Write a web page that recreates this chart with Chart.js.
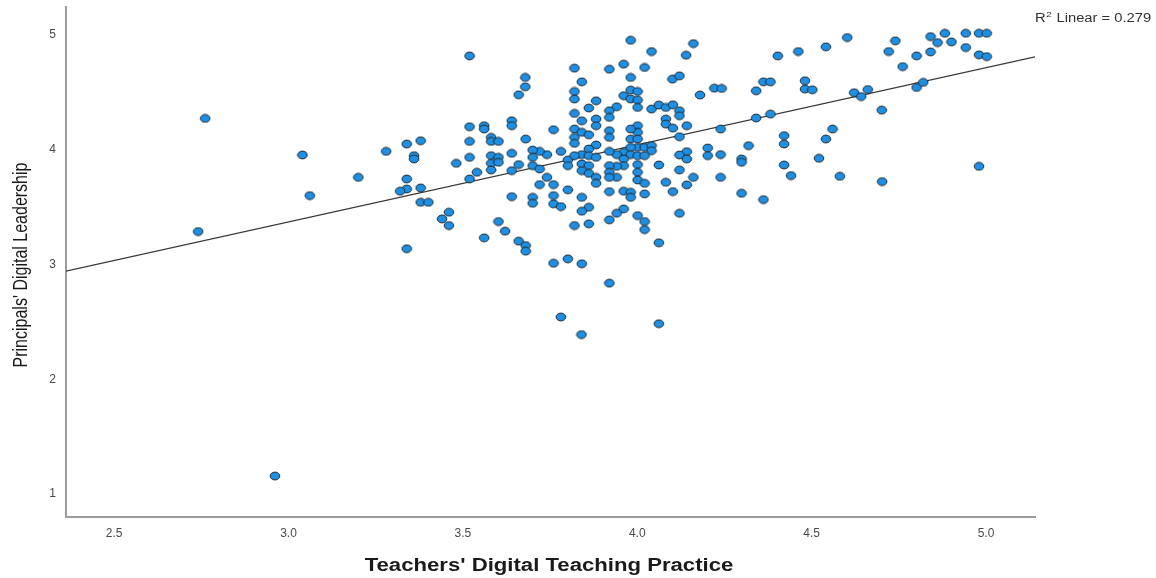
<!DOCTYPE html>
<html>
<head>
<meta charset="utf-8">
<script src="https://cdn.jsdelivr.net/npm/chart.js@4"></script>
<style>
  html, body { margin: 0; padding: 0; background: #fff; }
  #wrap { width: 1156px; height: 578px; }
</style>
</head>
<body>
<div id="wrap"><canvas id="scatter"></canvas></div>
<script>
const teachX = [
  2.761, 3.040, 3.280, 3.200, 3.061, 2.741, 2.961,
  3.920, 3.781, 3.840, 4.062,
  4.882, 4.942, 4.980, 5.002, 4.841, 4.861, 4.901, 4.602, 4.740, 4.541, 4.462, 4.403,
  4.721, 4.801, 4.841, 4.942, 4.980, 5.002, 4.761, 4.362, 4.382, 4.481, 4.481, 4.502,
  4.622, 4.642, 4.661, 4.801, 4.820, 4.341, 4.382, 4.341, 4.701, 4.560, 4.541, 4.421,
  4.421, 4.521, 4.421, 4.441, 4.581, 4.702, 4.980, 4.362,
  3.981, 4.161, 4.041, 4.140, 3.519, 3.820, 3.920, 3.961, 4.021, 3.981, 4.101, 4.121,
  3.679, 3.679, 3.660, 3.841, 3.820, 3.820, 3.820, 3.882, 3.861, 3.981, 4.001, 3.961,
  3.981, 4.001, 4.001, 3.941, 3.920, 3.920, 3.841, 3.882, 3.882, 4.180, 4.221, 4.242,
  4.041, 4.062, 4.082, 4.102, 4.121, 4.121, 4.082, 4.082, 4.102, 4.142, 4.121, 4.239,
  4.319, 4.202, 4.202, 4.239, 4.142, 4.121, 4.142, 4.299, 4.299, 4.121, 4.161, 4.239,
  4.142, 4.082, 4.102, 4.062, 4.299, 4.121, 4.062,
  4.001, 4.001, 3.981, 3.981, 4.001, 4.001, 4.021, 4.041, 4.041, 3.981, 3.961, 3.981,
  4.001, 4.021, 3.941, 3.920, 3.961, 3.961, 3.941, 3.920, 4.001, 4.001, 3.920, 3.941,
  3.920, 4.001, 4.021, 4.021, 3.961, 3.981, 3.981, 3.920, 3.961, 3.941, 3.920, 4.001,
  4.021, 4.021, 3.920, 3.920,
  3.882, 3.861, 3.841, 3.861, 3.882, 3.841, 3.861, 3.841, 3.861, 3.882, 3.882, 3.801,
  3.801, 3.781, 3.820, 3.820, 3.820, 3.841, 3.861, 3.820, 3.760, 3.741, 3.720, 3.700,
  3.700, 3.700, 3.720, 3.741, 3.720, 3.760, 3.801, 3.841, 3.861, 3.841, 3.760, 3.760,
  3.781, 3.700, 3.700, 3.640, 3.820, 3.861, 3.760, 3.801, 3.841,
  3.680, 3.640, 3.640, 3.640, 3.640, 3.660, 3.561, 3.561, 3.519, 3.581, 3.581, 3.602,
  3.519, 3.581, 3.602, 3.581, 3.602, 3.519, 3.581, 3.540, 3.519, 3.481, 3.379, 3.339,
  3.360, 3.360, 3.339, 3.339, 3.320, 3.379, 3.379, 3.401, 3.460, 3.440, 3.460, 3.339,
  3.561, 3.602, 3.621, 3.660, 3.680, 3.680
];
const leadY = [
  4.272, 3.954, 3.985, 3.759, 3.600, 3.287, 1.157,
  2.837, 2.542, 2.389, 2.484,
  5.014, 5.014, 5.014, 5.014, 4.985, 4.933, 4.939, 4.977, 4.948, 4.896, 4.855, 4.817,
  4.855, 4.817, 4.852, 4.890, 4.826, 4.811, 4.724, 4.591, 4.591, 4.600, 4.528, 4.522,
  4.496, 4.463, 4.524, 4.542, 4.586, 4.513, 4.310, 4.276, 4.345, 4.180, 4.093, 4.122,
  4.049, 3.925, 3.867, 3.774, 3.768, 3.722, 3.855, 3.565,
  4.953, 4.924, 4.855, 4.823, 4.817, 4.710, 4.701, 4.745, 4.716, 4.629, 4.615, 4.643,
  4.629, 4.548, 4.478, 4.591, 4.507, 4.441, 4.316, 4.426, 4.363, 4.519, 4.507, 4.470,
  4.441, 4.432, 4.368, 4.374, 4.339, 4.281, 4.252, 4.267, 4.209, 4.476, 4.536, 4.533,
  4.354, 4.389, 4.368, 4.391, 4.339, 4.296, 4.267, 4.223, 4.188, 4.209, 4.113, 4.180,
  4.035, 4.015, 3.948, 3.957, 3.983, 3.954, 3.919, 3.919, 3.890, 3.823, 3.759, 3.759,
  3.693, 3.716, 3.635, 3.867, 3.620, 3.446, 3.189,
  4.209, 4.151, 4.180, 4.093, 4.093, 4.020, 4.020, 4.035, 3.991, 4.020, 3.977, 3.957,
  3.948, 3.948, 3.957, 3.985, 3.919, 3.861, 3.855, 3.861, 3.870, 3.803, 3.803, 3.759,
  3.759, 3.736, 3.707, 3.615, 3.638, 3.629, 3.585, 3.635, 3.484, 3.446, 3.389, 3.426,
  3.374, 3.304, 4.165, 4.107,
  4.041, 4.006, 3.957, 3.948, 3.933, 3.876, 3.861, 3.817, 3.794, 3.759, 3.707, 3.910,
  3.861, 3.985, 4.180, 4.107, 4.055, 4.151, 4.130, 3.948, 4.174, 3.957, 3.985, 3.997,
  3.933, 3.861, 3.832, 3.759, 3.696, 3.696, 3.650, 3.585, 3.498, 3.464, 3.600, 3.528,
  3.504, 3.585, 3.533, 3.591, 3.339, 3.354, 3.011, 3.049, 3.006,
  4.093, 4.252, 4.209, 3.968, 3.817, 3.870, 4.209, 4.180, 4.200, 4.107, 4.072, 4.072,
  4.072, 3.948, 3.933, 3.881, 3.890, 3.933, 3.823, 3.803, 3.745, 3.881, 4.078, 4.049,
  3.948, 3.919, 3.745, 3.658, 3.638, 3.667, 3.542, 3.542, 3.455, 3.397, 3.339, 3.137,
  3.232, 3.374, 3.290, 3.203, 3.165, 3.116
];

// fitted line ends as drawn
const fitX = [2.362, 5.1405];
const fitY = [2.942, 4.809];

const xTicks = [2.5, 3.0, 3.5, 4.0, 4.5, 5.0];
const yTicks = [1, 2, 3, 4, 5];
const xTitle = "Teachers' Digital Teaching Practice";
const yTitle = "Principals' Digital Leadership";
const r2Text = '0.279';

const points = teachX.map((x, i) => ({ x: x, y: leadY[i] }));
const fitLine = fitX.map((x, i) => ({ x: x, y: fitY[i] }));

// the source picture is stretched sideways, so markers are little ellipses
const dot = document.createElement('canvas');
dot.width = 12;
dot.height = 10;
(function () {
  const d = dot.getContext('2d');
  d.beginPath();
  d.ellipse(6, 5, 4.8, 3.9, 0, 0, Math.PI * 2);
  d.fillStyle = '#1e8fe2';
  d.fill();
  d.lineWidth = 1;
  d.strokeStyle = '#1b2833';
  d.stroke();
})();

const FONT = '"Liberation Sans", Arial, sans-serif';
const STRETCH = 1.23;

const labels = {
  id: 'labels',
  afterDraw(chart) {
    const c = chart.ctx;
    c.save();
    c.fillStyle = '#1a1a1a';
    c.textAlign = 'center';
    c.textBaseline = 'middle';

    // x title
    c.save();
    c.translate(549, 566);
    c.scale(STRETCH, 1);
    c.font = 'bold 18px ' + FONT;
    c.fillText(xTitle, 0, 0);
    c.restore();

    // y title
    c.save();
    c.translate(22, 265);
    c.scale(STRETCH, 1);
    c.rotate(-Math.PI / 2);
    c.font = '16px ' + FONT;
    c.fillText(yTitle, 0, 0);
    c.restore();

    // R squared note
    c.save();
    c.fillStyle = '#333';
    c.textAlign = 'left';
    c.textBaseline = 'alphabetic';
    c.translate(1035, 22);
    c.scale(STRETCH, 1);
    let x = 0;
    c.font = '12px ' + FONT;
    c.fillText('R', x, 0);
    x += c.measureText('R').width;
    c.font = '8px ' + FONT;
    c.fillText('2', x + 0.5, -5);
    x += c.measureText('2').width + 1;
    c.font = '12px ' + FONT;
    c.fillText(' Linear = ' + r2Text, x, 0);
    c.restore();

    c.restore();
  }
};

const ctx = document.getElementById('scatter').getContext('2d');
new Chart(ctx, {
  type: 'scatter',
  data: {
    datasets: [
      {
        label: 'fit',
        type: 'line',
        data: fitLine,
        borderColor: '#3a3a3a',
        borderWidth: 1.2,
        pointRadius: 0,
        fill: false,
        order: 2
      },
      {
        label: 'schools',
        data: points,
        pointStyle: dot,
        pointRadius: 5,
        order: 1
      }
    ]
  },
  options: {
    responsive: true,
    maintainAspectRatio: false,
    animation: false,
    layout: { padding: { left: 0, right: 121, top: 7, bottom: 0 } },
    plugins: {
      legend: { display: false },
      tooltip: { enabled: false }
    },
    scales: {
      x: {
        type: 'linear',
        min: 2.362,
        max: 5.1405,
        afterBuildTicks: function (scale) {
          scale.ticks = xTicks.map(v => ({ value: v }));
        },
        afterFit: function (scale) {
          scale.height = 61;
          scale.paddingLeft = 0;
          scale.paddingRight = 0;
        },
        grid: { display: false, drawTicks: false },
        border: { display: true, color: '#9c9c9c', width: 2 },
        ticks: {
          padding: 9,
          color: '#4a4a4a',
          font: { family: FONT, size: 12 },
          callback: function (value) { return value.toFixed(1); }
        }
      },
      y: {
        type: 'linear',
        min: 0.8,
        max: 5.243,
        afterBuildTicks: function (scale) {
          scale.ticks = yTicks.map(v => ({ value: v }));
        },
        afterFit: function (scale) {
          scale.width = 66;
          scale.paddingTop = 0;
          scale.paddingBottom = 0;
        },
        grid: { display: false, drawTicks: false },
        border: { display: true, color: '#9c9c9c', width: 2 },
        ticks: {
          padding: 10,
          color: '#4a4a4a',
          font: { family: FONT, size: 12 },
          callback: function (value) { return String(value); }
        }
      }
    }
  },
  plugins: [labels]
});
</script>
</body>
</html>
